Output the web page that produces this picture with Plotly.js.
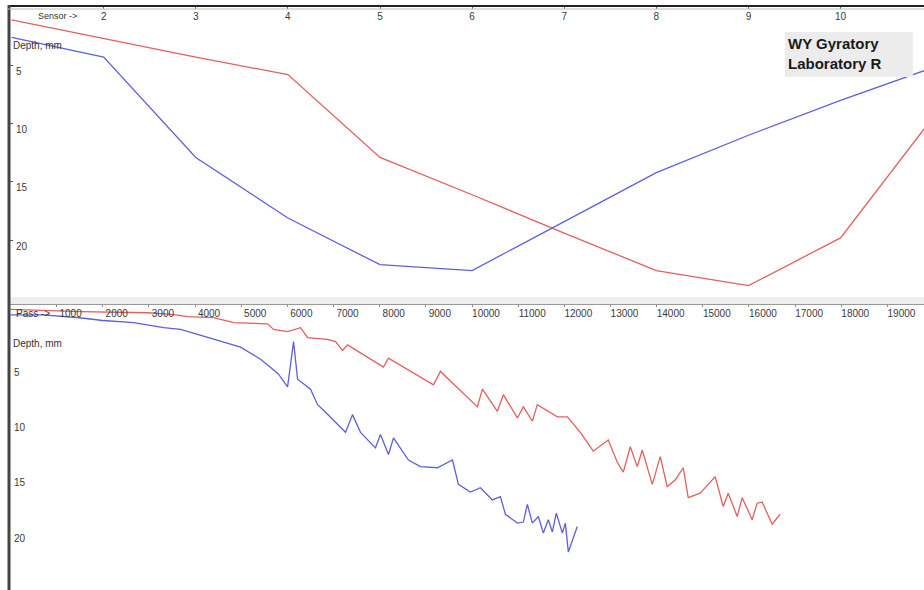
<!DOCTYPE html>
<html><head><meta charset="utf-8">
<script src="https://cdn.plot.ly/plotly-3.0.1.min.js"></script>
<style>html,body{margin:0;padding:0;background:#fff;}#chart{width:924px;height:590px;}</style>
</head><body><div id="chart"></div>
<script>
// Top panel: depth by sensor
const sensors = [1,2,3,4,5,6,7,8,9,10,11];
const sensorTicks = [2,3,4,5,6,7,8,9,10];
const sensorDepthRed = [1.1, 2.7, 4.3, 5.8, 12.9, 16.1, 19.4, 22.6, 23.9, 19.8, 9.5];
const sensorDepthBlue = [2.6, 4.3, 12.9, 18.1, 22.1, 22.6, 18.4, 14.2, 11.0, 8.0, 5.2];
// Bottom panel: depth by pass
const passTicks = [1000,2000,3000,4000,5000,6000,7000,8000,9000,10000,11000,12000,13000,14000,15000,16000,17000,18000,19000];
const depthTicks = [5,10,15,20];
const passRed = [0,1524,2974,3537,3840,4403,4835,5571,5701,6004,6286,6437,6870,7043,7195,7303,8082,8190,9164,9316,10117,10225,10550,10680,10983,11113,11307,11415,11848,12065,12346,12627,12952,13147,13277,13429,13580,13688,13905,14078,14229,14403,14576,14684,14944,15268,15442,15550,15745,15853,16069,16177,16286,16502,16675];
const depthRed = [-0.2,0,0.1,0.27,0.45,0.54,1.0,1.1,1.6,1.8,1.45,2.35,2.5,2.7,3.5,3.0,5.0,4.2,6.6,5.4,8.6,7.0,9.0,7.5,9.6,8.6,9.9,8.4,9.5,9.5,10.9,12.6,11.6,13.6,14.5,12.2,14.0,12.5,15.6,13.1,15.8,15.2,14.1,16.8,16.4,14.9,17.6,16.4,18.5,16.8,18.8,17.3,17.2,19.2,18.3];
const passBlue = [0,700,1500,2000,2671,3000,3320,3688,4000,4403,4987,5420,5800,6004,6134,6221,6502,6654,6784,7260,7411,7584,7909,8017,8190,8299,8623,8883,9251,9576,9706,9965,10182,10441,10615,10723,10983,11113,11199,11307,11437,11545,11653,11740,11827,11957,12022,12087,12281];
const depthBlue = [0.3,0.3,0.55,0.8,1.0,1.2,1.45,1.6,2.0,2.5,3.2,4.3,5.6,6.8,2.7,6.1,7.0,8.4,8.9,10.9,9.3,10.9,12.3,11.1,12.9,11.4,13.4,14.0,14.1,13.4,15.6,16.3,15.9,17.0,16.7,18.3,19.1,19.0,17.4,19.1,18.5,20.0,18.8,19.9,18.2,20.0,19.1,21.7,19.4];
const labelLines = ["WY Gyratory", "Laboratory R"];

const RED = '#e35f5f', BLUE = '#5f5fdc';
const W = 924, H = 590;
const px = x => x / W, py = y => 1 - y / H;
const tickFont = {family: 'Arial, Liberation Sans, sans-serif', size: 10, color: '#3a3a3a'};

const traces = [
  {x: sensors, y: sensorDepthRed, xaxis: 'x', yaxis: 'y', mode: 'lines', line: {color: RED, width: 1.3}, hoverinfo: 'skip'},
  {x: sensors, y: sensorDepthBlue, xaxis: 'x', yaxis: 'y', mode: 'lines', line: {color: BLUE, width: 1.3}, hoverinfo: 'skip'},
  {x: passRed, y: depthRed, xaxis: 'x2', yaxis: 'y2', mode: 'lines', line: {color: RED, width: 1.3}, hoverinfo: 'skip'},
  {x: passBlue, y: depthBlue, xaxis: 'x2', yaxis: 'y2', mode: 'lines', line: {color: BLUE, width: 1.3}, hoverinfo: 'skip'}
];

const layout = {
  width: W, height: H,
  margin: {l: 0, r: 0, t: 0, b: 0},
  paper_bgcolor: '#fff', plot_bgcolor: '#fff',
  showlegend: false,
  font: tickFont,
  xaxis: {domain: [px(10), 1], anchor: 'y', side: 'top', range: [0.983, 10.906],
    tickvals: sensorTicks, ticks: 'inside', ticklen: 2, tickcolor: '#666',
    ticklabelposition: 'inside', ticklabelstandoff: 3, showgrid: false, zeroline: false,
    showline: true, linecolor: '#222', linewidth: 2, tickfont: tickFont},
  yaxis: {domain: [py(297), py(7)], anchor: 'x', range: [24.87, 0],
    tickvals: depthTicks, ticks: 'inside', ticklen: 3, tickcolor: '#555',
    ticklabelposition: 'inside', ticklabelshift: -6, ticklabelstandoff: 2,
    showgrid: false, zeroline: false, showline: false, tickfont: tickFont},
  xaxis2: {domain: [px(10), 1], anchor: 'y2', side: 'top', range: [-9, 19792],
    tickvals: passTicks, ticktext: passTicks.map(String), ticks: 'inside', ticklen: 2, tickcolor: '#888',
    ticklabelposition: 'inside', ticklabelshift: 14, ticklabelstandoff: 2, showgrid: false, zeroline: false,
    showline: true, linecolor: '#999', linewidth: 1.5, tickfont: tickFont},
  yaxis2: {domain: [0, py(305)], anchor: 'x2', range: [25.14, -0.6],
    tickvals: depthTicks, ticks: '',
    ticklabelposition: 'inside', ticklabelshift: -5, ticklabelstandoff: 1,
    showgrid: false, zeroline: false, showline: false, tickfont: tickFont},
  shapes: [
    {type: 'rect', xref: 'paper', yref: 'paper', x0: px(10), x1: 1, y0: py(304), y1: py(297), fillcolor: '#eeeeee', line: {width: 0}, layer: 'below'},
    {type: 'line', xref: 'paper', yref: 'paper', x0: px(9), x1: px(9), y0: 0, y1: py(5), line: {color: '#444', width: 3}},
    {type: 'line', xref: 'paper', yref: 'paper', x0: px(8), x1: 1, y0: py(9), y1: py(9), line: {color: '#bbb', width: 1}},
    {type: 'rect', xref: 'paper', yref: 'paper', x0: px(785), x1: px(913), y0: py(77), y1: py(32), fillcolor: '#ececec', line: {width: 0}}
  ],
  annotations: [
    {xref: 'paper', yref: 'paper', x: px(36), y: py(16), xanchor: 'left', yanchor: 'middle', showarrow: false, text: 'Sensor ->', font: {family: 'Arial, sans-serif', size: 9, color: '#333'}},
    {xref: 'paper', yref: 'paper', x: px(11), y: py(45), xanchor: 'left', yanchor: 'middle', showarrow: false, text: 'Depth, mm', font: {family: 'Arial, sans-serif', size: 10, color: '#333'}},
    {xref: 'paper', yref: 'paper', x: px(14), y: py(313), xanchor: 'left', yanchor: 'middle', showarrow: false, text: 'Pass -> ', font: {family: 'Arial, sans-serif', size: 10, color: '#333'}},
    {xref: 'paper', yref: 'paper', x: px(11), y: py(343), xanchor: 'left', yanchor: 'middle', showarrow: false, text: 'Depth, mm', font: {family: 'Arial, sans-serif', size: 10, color: '#333'}},
    {xref: 'paper', yref: 'paper', x: px(786), y: py(53), xanchor: 'left', yanchor: 'middle', align: 'left', showarrow: false, text: labelLines.join('<br>'), font: {family: 'Arial, Liberation Sans, sans-serif', size: 15, color: '#1a1a1a', weight: 'bold'}}
  ]
};
Plotly.newPlot('chart', traces, layout, {staticPlot: true, displayModeBar: false});
</script></body></html>
